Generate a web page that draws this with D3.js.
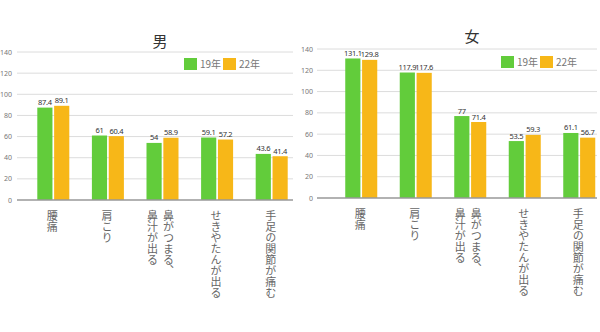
<!DOCTYPE html>
<html><head><meta charset="utf-8">
<script src="https://cdn.jsdelivr.net/npm/d3@7"></script>
<style>
html,body{margin:0;padding:0;background:#fff;}
svg{display:block;}
</style></head>
<body>
<svg id="c" width="600" height="332"></svg>
<script>
const categories = ["腰痛", "肩こり", "鼻がつまる、\n鼻汁が出る", "せきやたんが出る", "手足の関節が痛む"];
const seriesNames = ["19年", "22年"];
const maleY19 = [87.4, 61, 54, 59.1, 43.6];
const maleY22 = [89.1, 60.4, 58.9, 57.2, 41.4];
const femaleY19 = [131.1, 117.9, 77, 53.5, 61.1];
const femaleY22 = [129.8, 117.6, 71.4, 59.3, 56.7];
const yTicks = [0, 20, 40, 60, 80, 100, 120, 140];
const colors = ["#62cc3b", "#f7b718"];

const svg = d3.select("#c");
const font = "'Noto Sans CJK JP', 'Noto Sans', sans-serif";

function panel(cfg) {
  const g = svg.append("g");
  const y = d3.scaleLinear().domain([0, 140]).range([cfg.y0, cfg.y140]);
  const x0 = d3.scaleBand().domain(categories).range([cfg.bx0, cfg.bx1]).paddingInner(0).paddingOuter(0);
  const x1 = d3.scaleBand().domain(seriesNames).range([-16, 16]).paddingInner(0.1);

  g.selectAll("line.grid").data(yTicks.filter(t => t > 0)).join("line")
    .attr("x1", cfg.gx0).attr("x2", cfg.gx1)
    .attr("y1", d => y(d)).attr("y2", d => y(d))
    .attr("stroke", "#dcdcdc").attr("stroke-width", 1);

  g.selectAll("text.tick").data(yTicks).join("text")
    .attr("x", cfg.tx).attr("y", d => y(d) + 2.5)
    .attr("text-anchor", "end")
    .attr("font-family", "'Noto Sans', sans-serif").attr("font-size", 7)
    .attr("fill", "#777").text(d => d);

  g.append("text").attr("x", cfg.titleX).attr("y", cfg.titleY)
    .attr("text-anchor", "middle").attr("font-family", font)
    .attr("font-size", 15).attr("fill", "#333").text(cfg.title);

  const data = categories.map((c, i) => ({c, vals: [cfg.s1[i], cfg.s2[i]]}));
  const grp = g.selectAll("g.grp").data(data).join("g")
    .attr("transform", d => `translate(${x0(d.c) + x0.bandwidth() / 2},0)`);
  grp.selectAll("rect").data(d => d.vals.map((v, k) => ({v, k}))).join("rect")
    .attr("x", d => x1(seriesNames[d.k])).attr("width", x1.bandwidth())
    .attr("y", d => y(d.v)).attr("height", d => y(0) - y(d.v))
    .attr("fill", d => colors[d.k]);
  grp.selectAll("text.val").data(d => d.vals.map((v, k) => ({v, k}))).join("text")
    .attr("x", d => x1(seriesNames[d.k]) + x1.bandwidth() / 2)
    .attr("y", d => y(d.v) - 2.5)
    .attr("text-anchor", "middle").attr("font-family", "'Noto Sans', sans-serif")
    .attr("font-size", 7.5).attr("letter-spacing", -0.3).attr("fill", "#333").text(d => d.v);

  g.append("line").attr("x1", cfg.gx0).attr("x2", cfg.gx1)
    .attr("y1", y(0)).attr("y2", y(0)).attr("stroke", "#999").attr("stroke-width", 1.5);

  grp.each(function(d) {
    const lines = d.c.split("\n");
    const n = lines.length;
    lines.forEach((ln, j) => {
      const off = n === 1 ? -1 : (j === 0 ? 6 : -10);
      d3.select(this).append("text")
        .attr("x", off).attr("y", cfg.y0 + 10)
        .attr("font-family", font).attr("font-size", 11)
        .attr("fill", "#666")
        .style("writing-mode", "vertical-rl")
        .style("text-orientation", "upright")
        .text(ln);
    });
  });

  seriesNames.forEach((s, k) => {
    const lx = cfg.legX + k * 39;
    g.append("rect").attr("x", lx).attr("y", cfg.legY).attr("width", 13).attr("height", 12).attr("fill", colors[k]);
    g.append("text").attr("x", lx + 16).attr("y", cfg.legY + 10)
      .attr("font-family", font).attr("font-size", 10).attr("fill", "#777").text(s);
  });
}

panel({title: "男", s1: maleY19, s2: maleY22, y0: 200, y140: 52,
  bx0: 26, bx1: 299, gx0: 17, gx1: 293, tx: 12, titleX: 160, titleY: 47,
  legX: 184, legY: 58});
panel({title: "女", s1: femaleY19, s2: femaleY22, y0: 198, y140: 49,
  bx0: 334, bx1: 606.5, gx0: 317, gx1: 597, tx: 313, titleX: 472, titleY: 42,
  legX: 501, legY: 56});
</script>
</body></html>
